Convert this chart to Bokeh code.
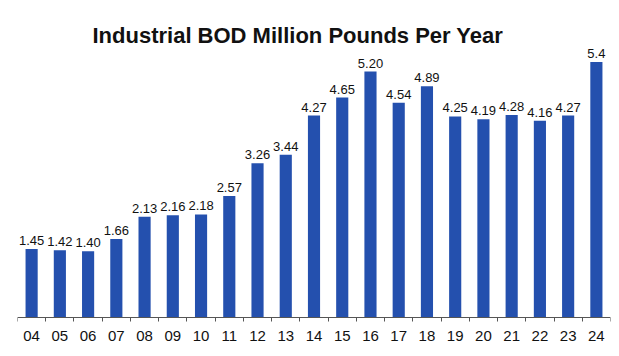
from bokeh.plotting import figure
from bokeh.models import Range1d, FixedTicker, Label, ColumnDataSource
from bokeh.embed import file_html
from bokeh.resources import INLINE

years = ["04", "05", "06", "07", "08", "09", "10", "11", "12", "13", "14",
         "15", "16", "17", "18", "19", "20", "21", "22", "23", "24"]
values = [1.45, 1.42, 1.40, 1.66, 2.13, 2.16, 2.18, 2.57, 3.26, 3.44, 4.27,
          4.65, 5.20, 4.54, 4.89, 4.25, 4.19, 4.28, 4.16, 4.27, 5.4]
value_labels = ["1.45", "1.42", "1.40", "1.66", "2.13", "2.16", "2.18", "2.57",
                "3.26", "3.44", "4.27", "4.65", "5.20", "4.54", "4.89", "4.25",
                "4.19", "4.28", "4.16", "4.27", "5.4"]
title_text = "Industrial BOD Million Pounds Per Year"

xs = list(range(len(years)))
src = ColumnDataSource(dict(x=xs, v=values, lab=value_labels))

p = figure(width=619, height=356, output_backend="svg",
           toolbar_location=None,
           x_range=Range1d(-0.5, len(years) - 0.5),
           y_range=Range1d(-0.8245, 6.702),
           min_border_left=17, min_border_right=9, min_border_top=0,
           min_border_bottom=0)
p.outline_line_color = None
p.grid.visible = False
p.yaxis.visible = False
p.background_fill_color = "white"

p.vbar(x="x", top="v", width=0.43, source=src, fill_color="#2450ae",
       line_color=None)
p.text(x="x", y="v", text="lab", source=src, text_align="center",
       text_baseline="bottom", y_offset=-4, text_font_size="13px",
       text_color="#111111", text_font={"value": "Liberation Sans"})

ax = p.xaxis[0]
ax.fixed_location = 0
ax.ticker = FixedTicker(ticks=xs, minor_ticks=[i - 0.5 for i in range(len(years) + 1)])
ax.major_label_overrides = {i: y for i, y in enumerate(years)}
ax.major_tick_out = 0
ax.major_tick_in = 0
ax.minor_tick_out = 4
ax.minor_tick_in = 0
ax.minor_tick_line_color = "#555555"
ax.axis_line_color = "#555555"
ax.major_label_standoff = 9
ax.major_label_text_font = "Liberation Sans"
ax.major_label_text_font_size = "15px"
ax.major_label_text_color = "#111111"

p.add_layout(Label(x=75, y=321, x_units="screen", y_units="screen",
                   text=title_text, text_font="Liberation Sans",
                   text_font_style="bold", text_font_size="22px",
                   text_color="#111111", text_baseline="alphabetic"))

open("out.html", "w").write(file_html(p, INLINE))
